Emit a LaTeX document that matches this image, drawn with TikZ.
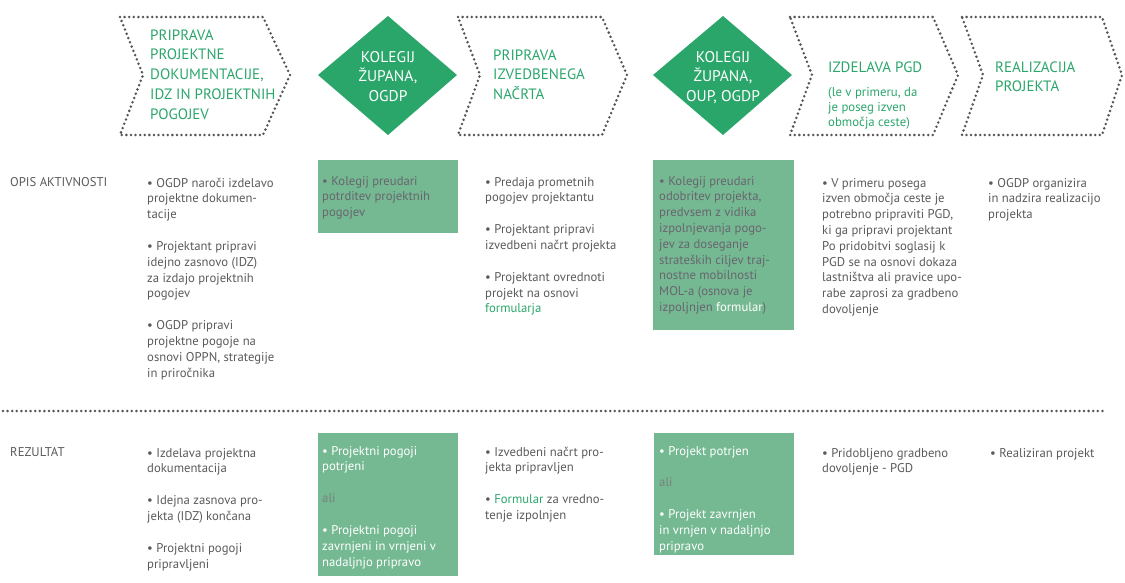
\documentclass[tikz,border=0pt]{standalone}
\usepackage{fontspec}
\setmainfont{PT Sans}
\definecolor{hgreen}{RGB}{43,166,107}
\definecolor{boxgreen}{RGB}{117,185,147}
\definecolor{textgray}{RGB}{90,90,90}
\definecolor{boxtext}{RGB}{105,100,110}
\definecolor{aligray}{RGB}{120,130,125}
\definecolor{dotgray}{RGB}{85,85,85}
\newcommand\tstack[1]{\begin{tabular}[t]{@{}l@{}}#1\end{tabular}}
\newcommand\cstack[1]{\begin{tabular}[t]{@{}c@{}}#1\end{tabular}}
\begin{document}
\begin{tikzpicture}[x=1pt,y=-1pt,
  dotline/.style={draw=dotgray, line width=2.8pt, line cap=round, dash pattern=on 0pt off 4.6pt},
  body/.style={anchor=base west, inner sep=0pt, text=textgray, font=\fontsize{12.7}{15.8}\selectfont},
  head/.style={anchor=base west, inner sep=0pt, text=hgreen, font=\fontsize{15}{19.8}\selectfont},
  subhead/.style={anchor=base west, inner sep=0pt, text=hgreen, font=\fontsize{12.8}{15}\selectfont},
  dtext/.style={anchor=base, inner sep=0pt, text=white, font=\fontsize{15.5}{19.8}\selectfont},
  gbox/.style={fill=boxgreen, draw=none},
  dia/.style={fill=hgreen, draw=none}
]
\useasboundingbox (0,0) rectangle (1125,582);

% chevrons
\draw[dotline] (120,17) -- (263,17) -- (290,75) -- (263,135) -- (120,135) -- (143,75) -- cycle;
\draw[dotline] (458,17) -- (602,17) -- (627,75) -- (602,135) -- (458,135) -- (480,75) -- cycle;
\draw[dotline] (790,17) -- (933,17) -- (958,75) -- (933,135) -- (790,135) -- (812,75) -- cycle;
\draw[dotline] (962,17) -- (1102,17) -- (1122,75) -- (1102,135) -- (962,135) -- (983,75) -- cycle;

% diamonds
\fill[dia] (388,16) -- (457,75) -- (388,135) -- (318,75) -- cycle;
\fill[dia] (723,16) -- (792,75) -- (723,135) -- (653,75) -- cycle;

% header texts
\node[head] (h1) at (150,40) {\tstack{PRIPRAVA\\PROJEKTNE\\DOKUMENTACIJE,\\IDZ IN PROJEKTNIH\\POGOJEV}};
\node[dtext] (d1) at (388,62) {\cstack{KOLEGIJ\\ŽUPANA,\\OGDP}};
\node[head] (h2) at (493,60) {\tstack{PRIPRAVA\\IZVEDBENEGA\\NAČRTA}};
\node[dtext] (d2) at (723,62) {\cstack{KOLEGIJ\\ŽUPANA,\\OUP, OGDP}};
\node[head] (h3) at (828,72) {IZDELAVA PGD};
\node[subhead] (h3s) at (828,96) {\tstack{(le v primeru, da\\je poseg izven\\območja ceste)}};
\node[head] (h4) at (995,72) {\tstack{REALIZACIJA\\PROJEKTA}};

% green boxes
\fill[gbox] (318,160) rectangle (458,233);
\fill[gbox] (653,160) rectangle (794,330);
\fill[gbox] (318,433) rectangle (458,576);
\fill[gbox] (654,433) rectangle (794,555);

% separator
\draw[dotline] (3,411) -- (1103,411);

% row labels
\node[body] (lopis) at (10,186) {OPIS AKTIVNOSTI};
\node[body] (lrez) at (10,456) {REZULTAT};

% OPIS row
\node[body] (o1) at (147,187) {\tstack{• OGDP naroči izdelavo\\projektne dokumen-\\tacije\\[16pt]
• Projektant pripravi\\idejno zasnovo (IDZ)\\za izdajo projektnih\\pogojev\\[16pt]
• OGDP pripravi\\projektne pogoje na\\osnovi OPPN, strategije\\in priročnika}};
\node[body, text=boxtext] (o2) at (322,185) {\tstack{• Kolegij preudari\\potrditev projektnih\\pogojev}};
\node[body] (o3) at (485,186) {\tstack{• Predaja prometnih\\pogojev projektantu\\[16pt]
• Projektant pripravi\\izvedbeni načrt projekta\\[16pt]
• Projektant ovrednoti\\projekt na osnovi\\\textcolor{hgreen}{formularja}}};
\node[body, text=boxtext] (o4) at (659,185) {\tstack{• Kolegij preudari\\odobritev projekta,\\predvsem z vidika\\izpolnjevanja pogo-\\jev za doseganje\\strateških ciljev traj-\\nostne mobilnosti\\MOL-a (osnova je\\izpoljnjen \textcolor{white}{formular})}};
\node[body] (o5) at (822,187) {\tstack{• V primeru posega\\izven območja ceste je\\potrebno pripraviti PGD,\\ki ga pripravi projektant\\Po pridobitvi soglasij k\\PGD se na osnovi dokaza\\lastništva ali pravice upo-\\rabe zaprosi za gradbeno\\dovoljenje}};
\node[body] (o6) at (988,187) {\tstack{• OGDP organizira\\in nadzira realizacijo\\projekta}};

% REZULTAT row
\node[body] (r1) at (147,457) {\tstack{• Izdelava projektna\\dokumentacija\\[16pt]
• Idejna zasnova pro-\\jekta (IDZ) končana\\[16pt]
• Projektni pogoji\\pripravljeni}};
\node[body, text=white] (r2) at (322,455) {\tstack{• Projektni pogoji\\potrjeni\\[16pt]
\textcolor{aligray}{ali}\\[16pt]
• Projektni pogoji\\zavrnjeni in vrnjeni v\\nadaljnjo pripravo}};
\node[body] (r3) at (485,456) {\tstack{• Izvedbeni načrt pro-\\jekta pripravljen\\[16pt]
• \textcolor{hgreen}{Formular} za vredno-\\tenje izpolnjen}};
\node[body, text=white] (r4) at (659,455) {\tstack{• Projekt potrjen\\[16pt]
\textcolor{aligray}{ali}\\[16pt]
• Projekt zavrnjen\\in vrnjen v nadaljnjo\\pripravo}};
\node[body] (r5) at (822,457) {\tstack{• Pridobljeno gradbeno\\dovoljenje - PGD}};
\node[body] (r6) at (990,457) {• Realiziran projekt};
\end{tikzpicture}
\end{document}
